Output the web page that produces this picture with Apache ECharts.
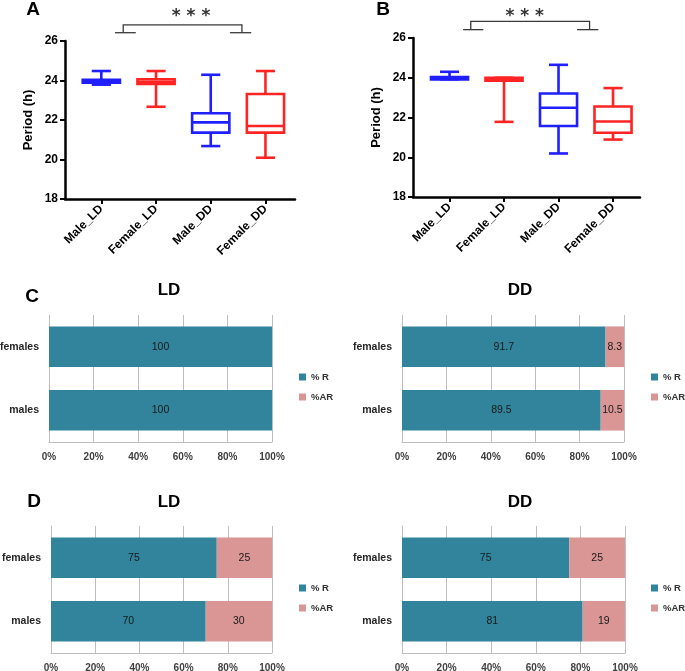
<!DOCTYPE html>
<html>
<head>
<meta charset="utf-8">
<script src="https://cdn.jsdelivr.net/npm/echarts@6/dist/echarts.min.js"></script>
<style>
html,body{margin:0;padding:0;background:#fff;}
#main{width:685px;height:671px;}
</style>
</head>
<body>
<div id="main"></div>
<script>
var groups = ['Male_LD', 'Female_LD', 'Male_DD', 'Female_DD'];
var groupColors = ['#1f1fff', '#ff2424', '#1f1fff', '#ff2424'];
// [min, Q1, median, Q3, max] in hours
var periodA = [
    [23.79, 23.89, 23.97, 24.03, 24.48],
    [22.67, 23.82, 23.94, 24.06, 24.48],
    [20.68, 21.36, 21.88, 22.34, 24.29],
    [20.09, 21.36, 21.70, 23.32, 24.48]
];
var periodB = [
    [23.92, 23.92, 23.97, 24.03, 24.30],
    [21.78, 23.85, 23.93, 24.00, 24.00],
    [20.19, 21.57, 22.49, 23.21, 24.65],
    [20.89, 21.23, 21.80, 22.55, 23.48]
];

var barCats = ['males', 'females'];
var rLD1 = [100, 100];
var arLD1 = [0, 0];
var rDD1 = [89.5, 91.7];
var arDD1 = [10.5, 8.3];
var rLD2 = [70, 75];
var arLD2 = [30, 25];
var rDD2 = [81, 75];
var arDD2 = [19, 25];

var teal = '#31849b';
var pink = '#d99694';
var gridGray = '#bfbfbf';
var font = 'Liberation Sans';

// bracket drawn above the box plots (axis units)
var bracketA = {legs: [0.40, 2.57], feet: [[0.25, 0.63], [2.35, 2.74]], top: 26.82, foot: 26.42, star: [1.64, 27.23]};
var bracketB = {legs: [0.39, 2.57], feet: [[0.25, 0.62], [2.34, 2.73]], top: 26.84, foot: 26.42, star: [1.38, 27.09]};

function boxData(arr) {
    return arr.map(function (v, i) { return [i].concat(v); });
}

function renderBox(params, api) {
    var i = api.value(0);
    var p = [1, 2, 3, 4, 5].map(function (d) { return api.coord([i, api.value(d)]); });
    var unit = api.size([1, 0])[0];
    var hw = unit * 0.34, cw = unit * 0.175;
    var cx = p[0][0];
    var st = {stroke: groupColors[i], lineWidth: 2.6, fill: 'none'};
    return {
        type: 'group',
        children: [
            {type: 'line', shape: {x1: cx, y1: p[0][1], x2: cx, y2: p[1][1]}, style: st},
            {type: 'line', shape: {x1: cx, y1: p[3][1], x2: cx, y2: p[4][1]}, style: st},
            {type: 'line', shape: {x1: cx - cw, y1: p[0][1], x2: cx + cw, y2: p[0][1]}, style: st},
            {type: 'line', shape: {x1: cx - cw, y1: p[4][1], x2: cx + cw, y2: p[4][1]}, style: st},
            {type: 'rect', shape: {x: cx - hw, y: p[3][1], width: hw * 2, height: p[1][1] - p[3][1]}, style: st},
            {type: 'line', shape: {x1: cx - hw, y1: p[2][1], x2: cx + hw, y2: p[2][1]}, style: st}
        ]
    };
}

function makeBracket(b) {
    return function (params, api) {
        var st = {stroke: '#3a3a3a', lineWidth: 1.3};
        var tl = api.coord([b.legs[0], b.top]), tr = api.coord([b.legs[1], b.top]);
        var fl = api.coord([b.legs[0], b.foot]), fr = api.coord([b.legs[1], b.foot]);
        var f1a = api.coord([b.feet[0][0], b.foot]), f1b = api.coord([b.feet[0][1], b.foot]);
        var f2a = api.coord([b.feet[1][0], b.foot]), f2b = api.coord([b.feet[1][1], b.foot]);
        var s = api.coord(b.star);
        return {
            type: 'group',
            children: [
                {type: 'polyline', shape: {points: [fl, tl, tr, fr]}, style: {stroke: '#3a3a3a', lineWidth: 1.3, fill: 'none'}},
                {type: 'line', shape: {x1: f1a[0], y1: f1a[1], x2: f1b[0], y2: f1b[1]}, style: st},
                {type: 'line', shape: {x1: f2a[0], y1: f2a[1], x2: f2b[0], y2: f2b[1]}, style: st},
                {type: 'text', x: s[0], y: s[1], style: {text: '* * *', font: 'bold 17px DejaVu Sans', fill: '#333', align: 'center', verticalAlign: 'middle'}}
            ]
        };
    };
}

function boxXAxis(idx, min, max) {
    return {
        type: 'value', gridIndex: idx, min: min, max: max,
        axisLine: {show: true, onZero: false, lineStyle: {color: '#000', width: 2.5}},
        axisTick: {show: true, length: 5, customValues: [0, 1, 2, 3], lineStyle: {color: '#000', width: 2}},
        axisLabel: {
            customValues: [0, 1, 2, 3], rotate: 45, margin: 8,
            formatter: function (v) { return groups[Math.round(v)]; },
            fontFamily: font, fontWeight: 'bold', fontSize: 12, color: '#000'
        },
        splitLine: {show: false}
    };
}

function boxYAxis(idx) {
    return {
        type: 'value', gridIndex: idx, min: 18, max: 26, interval: 2,
        name: 'Period (h)', nameLocation: 'middle', nameGap: 30,
        nameTextStyle: {fontFamily: font, fontWeight: 'bold', fontSize: 13, color: '#000'},
        axisLine: {show: true, onZero: false, lineStyle: {color: '#000', width: 2.5}},
        axisTick: {show: true, length: 5, lineStyle: {color: '#000', width: 2}},
        axisLabel: {margin: 7, fontFamily: font, fontWeight: 'bold', fontSize: 12, color: '#000'},
        splitLine: {show: false}
    };
}

function barXAxis(idx) {
    return {
        type: 'value', gridIndex: idx, min: 0, max: 100, interval: 20,
        axisLine: {show: true, lineStyle: {color: gridGray, width: 1}},
        axisTick: {show: false},
        axisLabel: {formatter: '{value}%', margin: 10, fontFamily: font, fontWeight: 'bold', fontSize: 10, color: '#404040'},
        splitLine: {show: true, lineStyle: {color: gridGray, width: 1}}
    };
}

function barYAxis(idx) {
    return {
        type: 'category', gridIndex: idx, data: barCats,
        axisLine: {show: true, lineStyle: {color: gridGray, width: 1}},
        axisTick: {show: false},
        axisLabel: {margin: 10, fontFamily: font, fontWeight: 'bold', fontSize: 10.5, color: '#262626'}
    };
}

var barLabel = {
    show: true, position: 'inside', color: '#1a1a1a', fontFamily: font, fontSize: 10.5,
    formatter: function (p) { return p.value > 0 ? p.value : ''; }
};

function barPair(idx, r, ar) {
    return [
        {name: '% R', type: 'bar', stack: 's' + idx, xAxisIndex: idx, yAxisIndex: idx, data: r,
            barWidth: '64%', itemStyle: {color: teal}, label: barLabel},
        {name: '%AR', type: 'bar', stack: 's' + idx, xAxisIndex: idx, yAxisIndex: idx, data: ar,
            barWidth: '64%', itemStyle: {color: pink}, label: barLabel}
    ];
}

function legendAt(left, top) {
    return {
        data: ['% R', '%AR'], orient: 'vertical', left: left, top: top, padding: 0,
        icon: 'rect', itemWidth: 7, itemHeight: 7, itemGap: 8, itemStyle: {borderWidth: 0},
        textStyle: {fontFamily: font, fontWeight: 'bold', fontSize: 9.5, lineHeight: 12, color: '#333'}
    };
}

function label(text, x, y, size) {
    return {type: 'text', x: x, y: y, style: {text: text, font: 'bold ' + size + 'px ' + font, fill: '#000', align: 'center', verticalAlign: 'middle'}};
}

function gridAt(left, top, width, height) {
    return {left: left, top: top, width: width, height: height, outerBoundsMode: 'none', containLabel: false};
}

var option = {
    animation: false,
    backgroundColor: '#fff',
    grid: [
        gridAt(65, 41, 230, 158),
        gridAt(413, 38, 227, 159),
        gridAt(49, 315, 223, 127),
        gridAt(402, 315, 222, 127),
        gridAt(51, 526, 221, 127),
        gridAt(402, 526, 223, 127)
    ],
    xAxis: [
        boxXAxis(0, -0.664, 3.54),
        boxXAxis(1, -0.67, 3.495),
        barXAxis(2), barXAxis(3), barXAxis(4), barXAxis(5)
    ],
    yAxis: [
        boxYAxis(0), boxYAxis(1),
        barYAxis(2), barYAxis(3), barYAxis(4), barYAxis(5)
    ],
    legend: [legendAt(299, 371), legendAt(651, 371), legendAt(299, 582), legendAt(651, 582)],
    graphic: [
        label('A', 33, 10, 19),
        label('B', 383, 10, 19),
        label('C', 32, 297, 19),
        label('D', 34, 502, 19),
        label('LD', 169, 290, 17),
        label('DD', 520, 290, 17),
        label('LD', 169, 502, 17),
        label('DD', 520, 502, 17)
    ],
    series: [
        {type: 'custom', xAxisIndex: 0, yAxisIndex: 0, renderItem: renderBox, data: boxData(periodA),
            encode: {x: 0, y: [1, 2, 3, 4, 5]}, clip: false},
        {type: 'custom', xAxisIndex: 1, yAxisIndex: 1, renderItem: renderBox, data: boxData(periodB),
            encode: {x: 0, y: [1, 2, 3, 4, 5]}, clip: false},
        {type: 'custom', xAxisIndex: 0, yAxisIndex: 0, renderItem: makeBracket(bracketA), data: [[1.5, 26]], clip: false, silent: true},
        {type: 'custom', xAxisIndex: 1, yAxisIndex: 1, renderItem: makeBracket(bracketB), data: [[1.5, 26]], clip: false, silent: true}
    ].concat(barPair(2, rLD1, arLD1), barPair(3, rDD1, arDD1), barPair(4, rLD2, arLD2), barPair(5, rDD2, arDD2))
};

var myChart = echarts.init(document.getElementById('main'));
myChart.setOption(option);
</script>
</body>
</html>
